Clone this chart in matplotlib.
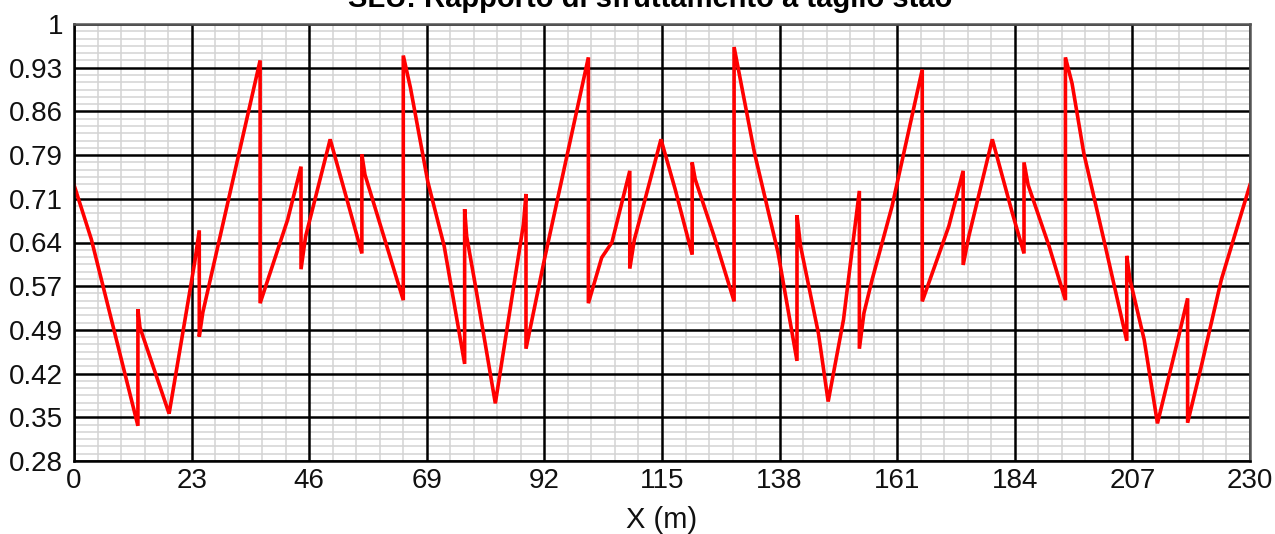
import numpy as np
import matplotlib
matplotlib.use("Agg")
import matplotlib.pyplot as plt

plt.rcParams['font.family'] = ['Liberation Sans', 'DejaVu Sans']

# position along the deck (m) and shear utilisation ratio
x_pos = [0, 3.4, 12.5, 12.5, 12.9, 18.6, 23.6, 24.5, 24.5, 25.2,
         36.4, 36.4, 41.8, 44.4, 44.4, 45.3, 50.1, 54.1, 56.3, 56.3,
         56.9, 64.4, 64.4, 65.8, 69.2, 72.4, 76.4, 76.4, 76.8, 78.4,
         82.4, 87.9, 88.4, 88.4, 92.0, 100.6, 100.6, 103.2, 105.2, 108.7,
         108.7, 109.6, 114.8, 117.6, 120.9, 120.9, 121.5, 125.2, 129.1, 129.1,
         133.1, 137.7, 141.4, 141.4, 142.1, 145.6, 147.5, 150.5, 153.6, 153.6,
         154.5, 156.1, 160.0, 165.9, 165.9, 168.8, 171.1, 173.9, 173.9, 175.0,
         179.6, 183.5, 185.8, 185.8, 186.6, 190.7, 193.9, 193.9, 195.2, 197.5,
         201.4, 205.9, 205.9, 206.5, 209.3, 211.9, 215.9, 217.8, 217.8, 220.5,
         224.4, 230]
ratio = [0.735, 0.645, 0.338, 0.53, 0.50, 0.358, 0.607, 0.66, 0.485, 0.525,
         0.94, 0.54, 0.678, 0.765, 0.596, 0.65, 0.81, 0.689, 0.622, 0.785,
         0.752, 0.545, 0.948, 0.895, 0.74, 0.634, 0.44, 0.695, 0.65, 0.574,
         0.375, 0.67, 0.72, 0.465, 0.612, 0.945, 0.54, 0.615, 0.64, 0.758,
         0.597, 0.645, 0.81, 0.727, 0.62, 0.772, 0.744, 0.65, 0.543, 0.962,
         0.787, 0.623, 0.445, 0.685, 0.634, 0.49, 0.378, 0.513, 0.725, 0.465,
         0.524, 0.579, 0.70, 0.925, 0.543, 0.612, 0.667, 0.758, 0.603, 0.65,
         0.81, 0.689, 0.622, 0.772, 0.735, 0.634, 0.545, 0.945, 0.902, 0.787,
         0.645, 0.478, 0.618, 0.58, 0.48, 0.342, 0.48, 0.548, 0.343, 0.437,
         0.579, 0.735]

x_ticks = [0, 23, 46, 69, 92, 115, 138, 161, 184, 207, 230]
y_labels = ['0.28', '0.35', '0.42', '0.49', '0.57', '0.64', '0.71', '0.79', '0.86', '0.93', '1']
y_ticks = np.linspace(0.28, 1, len(y_labels))

fig = plt.figure(figsize=(12.75, 5.34), dpi=100)
ax = fig.add_axes([74/1275, 1 - 461/534, 1176/1275, 437/534])
ax.set_axisbelow(True)

# light minor grid, black major grid drawn on top of it
ax.set_xticks(np.linspace(0, 230, 51), minor=True)
ax.set_yticks(np.linspace(0.28, 1, 61), minor=True)
ax.grid(which='minor', color='#d3d3d3', lw=1.1)
for t in x_ticks:
    ax.axvline(t, color='black', lw=1.8, zorder=1.8)
for t in y_ticks:
    ax.axhline(t, color='black', lw=1.8, zorder=1.8)

ax.plot(x_pos, ratio, color='#ff0000', lw=2.6, solid_joinstyle='miter', zorder=3)

ax.set_xlim(0, 230)
ax.set_ylim(0.28, 1)
ax.set_xticks(x_ticks)
ax.set_xticklabels([str(t) for t in x_ticks])
ax.set_yticks(y_ticks)
ax.set_yticklabels(y_labels)

ax.tick_params(which='both', length=0, labelsize=20, colors='#111111')
ax.tick_params(axis='y', pad=8)
ax.tick_params(axis='x', pad=5)

for side in ['left', 'bottom']:
    ax.spines[side].set_color('black')
    ax.spines[side].set_linewidth(1.8)
for side in ['top', 'right']:
    ax.spines[side].set_color('#555555')
    ax.spines[side].set_linewidth(1.8)
for s in ax.spines.values():
    s.set_zorder(4)

ax.set_xlabel('X (m)', fontsize=21, labelpad=9, color='#111111')

fig.text(650/1275, 1 - 7/534, 'SLU: Rapporto di sfruttamento a taglio stao',
         ha='center', va='baseline', fontsize=21, fontweight='bold')

fig.savefig('out.png', dpi=100)
